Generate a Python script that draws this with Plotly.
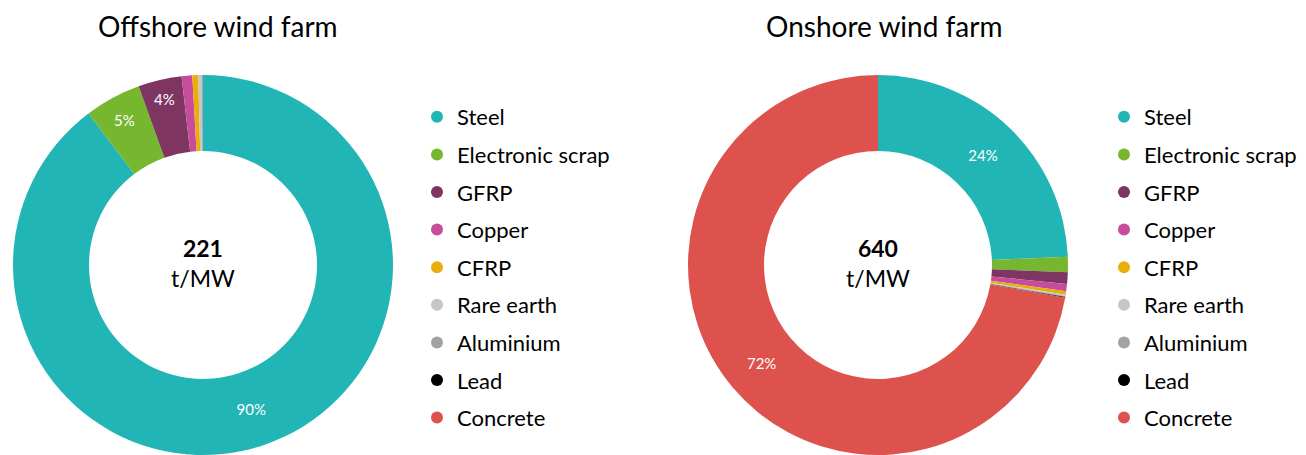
import plotly.graph_objects as go

# ------------------------------------------
# 1) Data (share of material per MW, %)
# ------------------------------------------

materials = ["Steel", "Electronic scrap", "GFRP", "Copper", "CFRP",
             "Rare earth", "Aluminium", "Lead", "Concrete"]
colors = ["#21B5B5", "#76B72F", "#7E3562", "#C64C9C", "#E9AE09",
          "#C6C6C6", "#A2A2A2", "#000000", "#DD524D"]

offshore_share = [89.7, 4.8, 3.7, 0.9, 0.5, 0.3, 0.1, 0.0, 0.0]
onshore_share = [24.3, 1.3, 1.0, 0.6, 0.3, 0.1, 0.1, 0.05, 72.25]

offshore_total = "221"
onshore_total = "640"

FONT = "Lato"
W, H = 1306, 455
OFF = 8  # page body margin, positions below are in page pixels


def px_x(x):
    return (x - OFF) / W


def px_y(y):
    return 1 - (y - OFF) / H


def labels_for(vals, cutoff=3):
    s = sum(vals)
    return [f"{round(v / s * 100)}%" if v / s * 100 >= cutoff else "" for v in vals]


# ------------------------------------------
# 2) Donuts
# ------------------------------------------

fig = go.Figure()

R = 190
pies = [(offshore_share, 203), (onshore_share, 878)]
for vals, cx in pies:
    fig.add_trace(go.Pie(
        labels=materials,
        values=vals,
        marker=dict(colors=colors, line=dict(width=0)),
        hole=0.6,
        sort=False,
        direction="clockwise",
        rotation=0,
        text=labels_for(vals),
        textinfo="text",
        textposition="inside",
        insidetextorientation="horizontal",
        textfont=dict(color="white", size=15, family=FONT),
        domain=dict(x=[px_x(cx - R), px_x(cx + R)],
                    y=[px_y(265 + R), px_y(265 - R)]),
        showlegend=False,
        hoverinfo="label+percent",
    ))

# legend entries with round markers, one legend per donut
for legend_id, prefix in [("legend", "off"), ("legend2", "on")]:
    for name, c in zip(materials, colors):
        fig.add_trace(go.Scatter(
            x=[None], y=[None],
            mode="markers",
            marker=dict(symbol="circle", size=13, color=c),
            name=name,
            legend=legend_id,
            legendgroup=f"{prefix}_{name}",
            showlegend=True,
            hoverinfo="skip",
        ))

legend_style = dict(
    font=dict(size=22, family=FONT, color="black"),
    bgcolor="rgba(0,0,0,0)",
    tracegroupgap=6,
    yanchor="top",
    xanchor="left",
    itemsizing="constant",
)

ann_font = dict(family=FONT, color="black")

fig.update_layout(
    width=W,
    height=H,
    margin=dict(l=0, r=0, t=0, b=0),
    paper_bgcolor="white",
    plot_bgcolor="white",
    xaxis=dict(visible=False),
    yaxis=dict(visible=False),
    legend=dict(x=px_x(417), y=px_y(96), **legend_style),
    legend2=dict(x=px_x(1104), y=px_y(96), **legend_style),
    annotations=[
        dict(text="Offshore wind farm", x=px_x(218), y=1,
             xref="paper", yref="paper", xanchor="center", yanchor="top",
             borderpad=0, showarrow=False, font=dict(size=28, **ann_font)),
        dict(text="Onshore wind farm", x=px_x(884), y=1,
             xref="paper", yref="paper", xanchor="center", yanchor="top",
             borderpad=0, showarrow=False, font=dict(size=28, **ann_font)),
        dict(text=f"<b>{offshore_total}</b><br>t/MW", x=px_x(203), y=px_y(263),
             xref="paper", yref="paper", xanchor="center", yanchor="middle",
             showarrow=False, font=dict(size=23, **ann_font)),
        dict(text=f"<b>{onshore_total}</b><br>t/MW", x=px_x(878), y=px_y(263),
             xref="paper", yref="paper", xanchor="center", yanchor="middle",
             showarrow=False, font=dict(size=23, **ann_font)),
    ],
)

fig.write_html("out.html")
